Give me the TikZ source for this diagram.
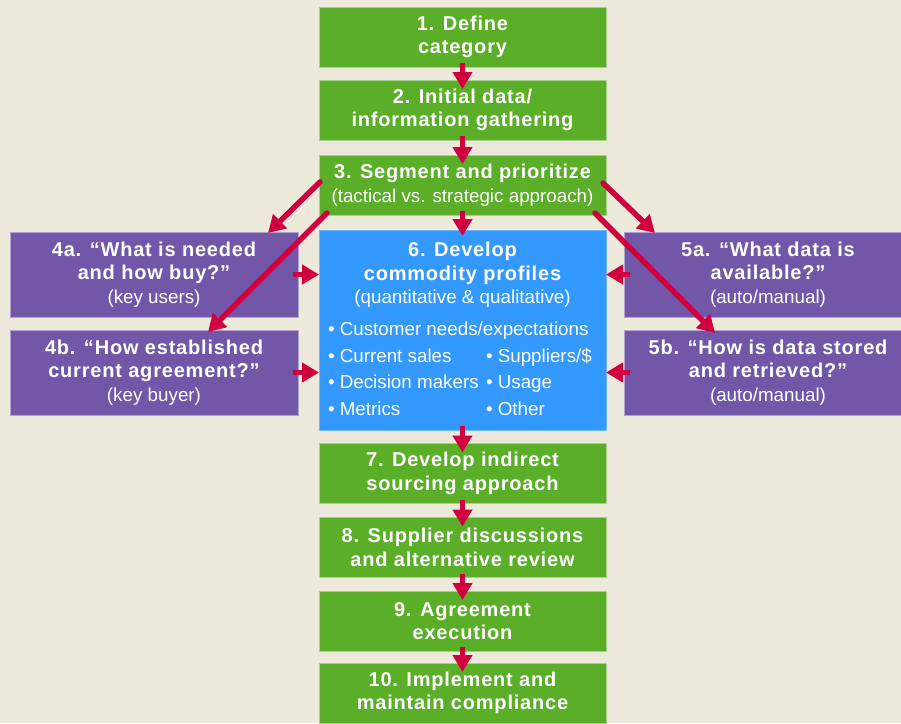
\documentclass[tikz,border=0pt]{standalone}
\usepackage{fontspec}
\setmainfont{Liberation Sans}
\newfontfamily\trk[LetterSpace=4.0]{Liberation Sans}
\usetikzlibrary{arrows.meta,calc}
\definecolor{bg}{HTML}{EDE9DB}
\definecolor{grn}{HTML}{5AAE28}
\definecolor{blu}{HTML}{3399FF}
\definecolor{pur}{HTML}{7257A8}
\definecolor{arr}{HTML}{CF003D}
\newcommand{\rg}{\normalfont\fontsize{18.8}{23.5}\selectfont}
\newcommand{\bd}{\trk\bfseries\fontsize{20}{23.5}\selectfont}
\tikzset{
  box/.style={inner sep=0pt, outer sep=0pt, text=white, align=center, line width=0.8pt, font=\bd},
  greenbox/.style={box, fill=grn, draw=grn!55!white, minimum width=287pt, minimum height=60pt},
  purplebox/.style={box, fill=pur, draw=pur!55!white, minimum width=288pt, minimum height=85pt},
  bluebox/.style={box, fill=blu, draw=blu!70!white, minimum width=287pt, minimum height=200pt},
  txt/.style={inner sep=0pt, outer sep=0pt, text=white},
  flow/.style={draw=arr, line width=5pt, -{Triangle[length=17pt,width=19pt]}},
  diag/.style={flow, line width=5.5pt, line cap=round}
}
\begin{document}
\begin{tikzpicture}[x=1pt,y=1pt]
\useasboundingbox (0,0) rectangle (901,-723);
\fill[bg] (0,0) rectangle (901,-723);

\node[greenbox] (n1) at (462.5,-37) {1. Define\\category};
\node[greenbox] (n2) at (462.5,-110) {2. Initial data/\\information gathering};
\node[greenbox] (n3) at (462.5,-185) {3. Segment and prioritize\\{\rg (tactical vs. strategic approach)}};
\node[bluebox] (n6) at (462.5,-330) {};
\node[greenbox] (n7) at (462.5,-473.5) {7. Develop indirect\\sourcing approach};
\node[greenbox] (n8) at (462.5,-547.5) {8. Supplier discussions\\and alternative review};
\node[greenbox] (n9) at (462.5,-621) {9. Agreement\\execution};
\node[greenbox] (n10) at (462.5,-693) {10. Implement and\\maintain compliance};

\node[purplebox] (n4a) at (154,-274.5) {4a. “What is needed\\and how buy?”\\{\rg (key users)}};
\node[purplebox] (n4b) at (154,-372.5) {4b. “How established\\current agreement?”\\{\rg (key buyer)}};
\node[purplebox] (n5a) at (768,-274.5) {5a. “What data is\\available?”\\{\rg (auto/manual)}};
\node[purplebox] (n5b) at (768,-372.5) {5b. “How is data stored\\and retrieved?”\\{\rg (auto/manual)}};

% text of box 6
\node[txt, font=\bd, anchor=base] (h1) at (462.5,-256) {6. Develop};
\node[txt, font=\bd, anchor=base] (h2) at (462.5,-280) {commodity profiles};
\node[txt, font=\rg, anchor=base] (h3) at (462.5,-303) {(quantitative \& qualitative)};
\node[txt, font=\rg, anchor=base west] (b1) at (328,-335) {•~Customer needs/expectations};
\node[txt, font=\rg, anchor=base west] (b2) at (328,-362) {•~Current sales};
\node[txt, font=\rg, anchor=base west] (b3) at (328,-388.5) {•~Decision makers};
\node[txt, font=\rg, anchor=base west] (b4) at (328,-415) {•~Metrics};
\node[txt, font=\rg, anchor=base west] (b5) at (486,-362) {•~Suppliers/\$};
\node[txt, font=\rg, anchor=base west] (b6) at (486,-388.5) {•~Usage};
\node[txt, font=\rg, anchor=base west] (b7) at (486,-415) {•~Other};

% vertical arrows
\draw[flow] ([yshift=4pt]n1.south) -- ([yshift=-9pt]n2.north);
\draw[flow] ([yshift=4pt]n2.south) -- ([yshift=-9pt]n3.north);
\draw[flow] ([yshift=4pt]n3.south) -- ([yshift=-6pt]n6.north);
\draw[flow] ([yshift=4pt]n6.south) -- ([yshift=-9pt]n7.north);
\draw[flow] ([yshift=4pt]n7.south) -- ([yshift=-9pt]n8.north);
\draw[flow] ([yshift=4pt]n8.south) -- ([yshift=-9pt]n9.north);
\draw[flow] ([yshift=4pt]n9.south) -- ([yshift=-9pt]n10.north);

% horizontal arrows into 6
\draw[flow] ([xshift=-5pt]n4a.east) -- (n6.west |- n4a.east);
\draw[flow] ([xshift=-5pt]n4b.east) -- (n6.west |- n4b.east);
\draw[flow] ([xshift=6pt]n5a.west) -- (n6.east |- n5a.west);
\draw[flow] ([xshift=6pt]n5b.west) -- (n6.east |- n5b.west);

% diagonal arrows from 3
\draw[diag] ([shift={(1,3)}]n3.west) -- ([shift={(-30,-1)}]n4a.north east);
\draw[diag] ([shift={(8,2)}]n3.south west) -- ([shift={(-90,-2)}]n4b.north east);
\draw[diag] ([shift={(-3,2)}]n3.east) -- ([shift={(31,-1)}]n5a.north west);
\draw[diag] ([shift={(-11,2)}]n3.south east) -- ([shift={(91,-3)}]n5b.north west);
\end{tikzpicture}
\end{document}
